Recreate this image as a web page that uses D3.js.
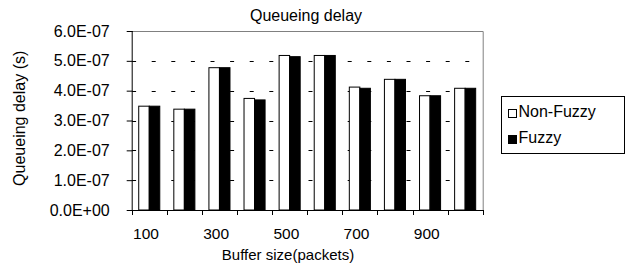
<!DOCTYPE html>
<html><head><meta charset="utf-8">
<script src="https://cdn.jsdelivr.net/npm/d3@7"></script>
<style>
html,body{margin:0;padding:0;background:#fff;}
svg{display:block;font-family:"Liberation Sans",Arial,sans-serif;}
</style></head>
<body><svg id="c" width="626" height="267"></svg>
<script>
const categories = [100,200,300,400,500,600,700,800,900,1000];
const seriesNames = ["Non-Fuzzy","Fuzzy"];
const nonFuzzy = [3.48e-7,3.38e-7,4.77e-7,3.74e-7,5.18e-7,5.18e-7,4.12e-7,4.38e-7,3.83e-7,4.08e-7];
const fuzzy    = [3.48e-7,3.38e-7,4.77e-7,3.69e-7,5.14e-7,5.18e-7,4.08e-7,4.38e-7,3.83e-7,4.08e-7];
const yTicks = [0,1e-7,2e-7,3e-7,4e-7,5e-7,6e-7];
const xTickLabels = [100,300,500,700,900];
const colors = ["#ffffff","#000000"];

const svg = d3.select("#c");
const L=131.7, R=482.7, T=31, B=210;
const x = d3.scaleBand().domain(categories).range([L,R]).padding(0);
const x1 = d3.scaleBand().domain(seriesNames).range([x.bandwidth()*0.2, x.bandwidth()*0.8]).padding(0);
const y = d3.scaleLinear().domain([0,6e-7]).range([B,T]);
const fmt = v => {
  if (v===0) return "0.0E+00";
  const e = Math.floor(Math.log10(v)+1e-9);
  const m = v/Math.pow(10,e);
  return m.toFixed(1)+"E-"+String(-e).padStart(2,"0");
};

// gridlines
svg.append("g").selectAll("line").data(yTicks.filter(v=>v>0 && v<6e-7)).join("line")
  .attr("x1",L).attr("x2",R).attr("y1",d=>Math.round(y(d))+0.5).attr("y2",d=>Math.round(y(d))+0.5)
  .attr("stroke","#000").attr("stroke-width",1).attr("stroke-dasharray","4,15.6").attr("stroke-dashoffset",-0.4);

// plot border top/right
svg.append("path").attr("d",`M${L},${T+0.5}H${R+0.5}V${B}`).attr("fill","none").attr("stroke","#808080").attr("stroke-width",1);

// bars
const data = categories.map((c,i)=>({c, vals:[nonFuzzy[i],fuzzy[i]]}));
const g = svg.append("g").selectAll("g").data(data).join("g").attr("transform",d=>`translate(${x(d.c)},0)`);
g.selectAll("rect").data(d=>d.vals.map((v,j)=>({s:seriesNames[j],v,j}))).join("rect")
  .attr("x",d=>x1(d.s)).attr("width",x1.bandwidth())
  .attr("y",d=>y(d.v)).attr("height",d=>B-y(d.v))
  .attr("fill",d=>colors[d.j]).attr("stroke","#000").attr("stroke-width",1);

// y axis
const ya = svg.append("g").attr("transform",`translate(${L},0)`)
  .call(d3.axisLeft(y).tickValues(yTicks).tickFormat(fmt).tickSize(5).tickPadding(17));
ya.select(".domain").attr("stroke","#000").attr("d",`M0.5,${T}V${B}`);
ya.selectAll(".tick line").attr("x2",-5).attr("x1",1);
ya.selectAll("text").attr("font-size","16px").attr("fill","#000").attr("font-family","Liberation Sans, Arial, sans-serif");

// x axis
const xa = svg.append("g").attr("transform",`translate(0,${B})`);
xa.append("line").attr("x1",L).attr("x2",R+1).attr("y1",0.5).attr("y2",0.5).attr("stroke","#000");
xa.selectAll(".xt").data(categories.map(c=>x(c)).concat([R])).join("line").attr("class","xt")
  .attr("x1",d=>Math.round(d)+0.5).attr("x2",d=>Math.round(d)+0.5).attr("y1",0).attr("y2",5).attr("stroke","#000");
const xl = d3.axisBottom(x).tickValues(xTickLabels).tickSize(0).tickPadding(0);
const xag = svg.append("g").attr("transform",`translate(-3.3,${B})`).call(xl);
xag.select(".domain").remove();
xag.selectAll("text").attr("font-size","15.5px").attr("fill","#000").attr("dy",null).attr("y",29).attr("font-family","Liberation Sans, Arial, sans-serif");

// titles
svg.append("text").attr("x",306).attr("y",20.5).attr("text-anchor","middle").attr("font-size","16px").text("Queueing delay");
svg.append("text").attr("x",288).attr("y",259.5).attr("text-anchor","middle").attr("font-size","15px").text("Buffer size(packets)");
svg.append("text").attr("transform","translate(24.5,118.3) rotate(-90)").attr("text-anchor","middle").attr("font-size","16px").text("Queueing delay (s)");

// legend
const lg = svg.append("g");
lg.append("rect").attr("x",501.5).attr("y",96.5).attr("width",123).attr("height",57).attr("fill","#fff").attr("stroke","#000");
const items = lg.selectAll("g").data(seriesNames).join("g").attr("transform",(d,i)=>`translate(0,${i*26})`);
items.append("rect").attr("x",508.5).attr("y",109.5).attr("width",8).attr("height",8).attr("fill",(d,i)=>colors[i]).attr("stroke","#000");
items.append("text").attr("x",518.5).attr("y",117.3).attr("font-size","16px").text(d=>d);
</script></body></html>
